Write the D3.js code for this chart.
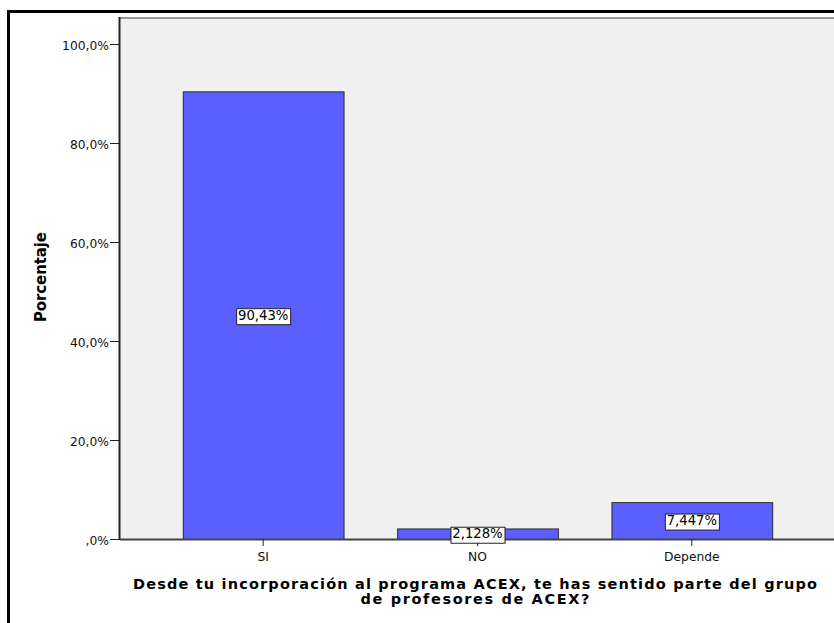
<!DOCTYPE html>
<html>
<head>
<meta charset="utf-8">
<script src="https://cdn.jsdelivr.net/npm/d3@7"></script>
<style>
  html, body { margin: 0; padding: 0; background: #fff; }
  svg { display: block; font-family: "DejaVu Sans", Verdana, sans-serif; }
</style>
</head>
<body>
<svg id="chart" width="834" height="623"></svg>
<script>
// Survey answers and their percentage of respondents
const categories = ["SI", "NO", "Depende"];
const values = [90.43, 2.128, 7.447];
const valueLabels = ["90,43%", "2,128%", "7,447%"];
const yTicks = [0, 20, 40, 60, 80, 100];
const yTickLabels = [",0%", "20,0%", "40,0%", "60,0%", "80,0%", "100,0%"];
const xTitleLines = [
  "Desde tu incorporación al programa ACEX, te has sentido parte del grupo",
  "de profesores de ACEX?"
];
const yTitle = "Porcentaje";

const FONT = "'DejaVu Sans', Verdana, sans-serif";
const svg = d3.select("#chart");

// Outer frame (right and bottom sides run off the canvas)
svg.append("rect")
  .attr("x", 8.5).attr("y", 11.5)
  .attr("width", 900).attr("height", 700)
  .attr("fill", "none").attr("stroke", "#000").attr("stroke-width", 3);

const plot = { left: 120, top: 17, right: 834, bottom: 539 };

// Plot background
svg.append("rect")
  .attr("x", plot.left).attr("y", plot.top)
  .attr("width", plot.right - plot.left).attr("height", plot.bottom - plot.top)
  .attr("fill", "#f0f0f0");
svg.append("line")
  .attr("x1", plot.left).attr("x2", plot.right)
  .attr("y1", plot.top + 1).attr("y2", plot.top + 1)
  .attr("stroke", "#999").attr("stroke-width", 2);

const y = d3.scaleLinear().domain([0, 100]).range([539, 44]);
const x = d3.scaleBand().domain(categories).range([156, 799]).paddingInner(0.25).paddingOuter(0.125);

// Bars
svg.append("g").selectAll("rect")
  .data(categories)
  .join("rect")
  .attr("x", d => x(d) + 0.5)
  .attr("y", (d, i) => y(values[i]) + 0.5)
  .attr("width", x.bandwidth())
  .attr("height", (d, i) => y(0) - y(values[i]))
  .attr("fill", "#5b5fff")
  .attr("stroke", "#2a2a2a")
  .attr("stroke-width", 1);

// Y axis
const yAxis = d3.axisLeft(y)
  .tickValues(yTicks)
  .tickFormat((d, i) => yTickLabels[i])
  .tickSize(10)
  .tickPadding(1);
const gy = svg.append("g").attr("transform", `translate(${plot.left},0)`).call(yAxis);
gy.select(".domain").attr("d", `M-0.5,${plot.top}V${plot.bottom}`).attr("stroke", "#222").attr("stroke-width", 2);
gy.selectAll(".tick line").attr("stroke", "#222");
gy.selectAll(".tick text").attr("font-size", 12.3).attr("fill", "#111").attr("font-family", FONT)
  .attr("dy", "0.42em");

// X axis
const xAxis = d3.axisBottom(x).tickSize(7).tickPadding(6);
const gx = svg.append("g").attr("transform", `translate(0,${plot.bottom})`).call(xAxis);
gx.select(".domain").attr("d", `M${plot.left},0.5H${plot.right}`).attr("stroke", "#444").attr("stroke-width", 2);
gx.selectAll(".tick line").attr("stroke", "#222");
gx.selectAll(".tick text").attr("font-size", 12.3).attr("fill", "#111").attr("font-family", FONT);

// Value labels in boxes at the middle of each bar
const labels = svg.append("g").selectAll("g")
  .data(categories)
  .join("g")
  .attr("transform", (d, i) => `translate(${x(d) + x.bandwidth() / 2},${(y(values[i]) + y(0)) / 2})`);
labels.append("text")
  .attr("text-anchor", "middle")
  .attr("dy", "0.36em")
  .attr("font-size", 13.2)
  .attr("font-family", FONT)
  .attr("fill", "#000")
  .text((d, i) => valueLabels[i]);
labels.each(function () {
  const g = d3.select(this);
  const bb = g.select("text").node().getBBox();
  g.insert("rect", "text")
    .attr("x", Math.round(bb.x - 2) + 0.5)
    .attr("y", Math.round(bb.y) + 0.5)
    .attr("width", Math.round(bb.width + 4))
    .attr("height", Math.round(bb.height + 1))
    .attr("fill", "#fff")
    .attr("stroke", "#222")
    .attr("stroke-width", 1);
});

// Axis titles
svg.append("text")
  .attr("transform", "translate(46,277) rotate(-90)")
  .attr("text-anchor", "middle")
  .attr("font-size", 15)
  .attr("font-weight", "bold")
  .attr("font-family", FONT)
  .attr("textLength", 90)
  .attr("lengthAdjust", "spacing")
  .text(yTitle);

const titleWidths = [684, 229];
svg.append("g")
  .selectAll("text")
  .data(xTitleLines)
  .join("text")
  .attr("text-anchor", "middle")
  .attr("font-size", 14.5)
  .attr("font-weight", "bold")
  .attr("font-family", FONT)
  .attr("x", 475)
  .attr("y", (d, i) => 589 + i * 15)
  .attr("textLength", (d, i) => titleWidths[i])
  .attr("lengthAdjust", "spacing")
  .text(d => d);
</script>
</body>
</html>
